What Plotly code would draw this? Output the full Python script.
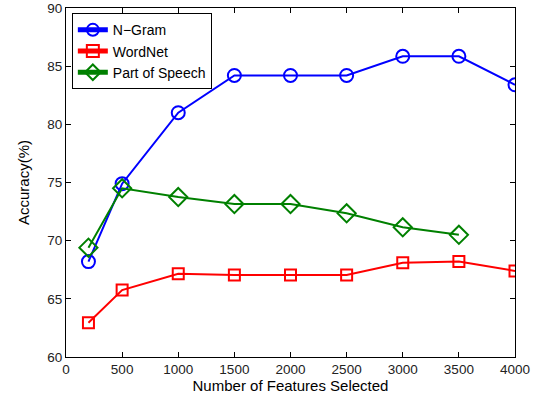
import plotly.graph_objects as go

features = [200, 500, 1000, 1500, 2000, 2500, 3000, 3500, 4000]
ngram = [68.2, 74.9, 81.0, 84.2, 84.2, 84.2, 85.85, 85.85, 83.4]
wordnet = [62.95, 65.75, 67.15, 67.05, 67.05, 67.05, 68.1, 68.2, 67.4]
pos_feat = [200, 500, 1000, 1500, 2000, 2500, 3000, 3500]
pos = [69.4, 74.5, 73.75, 73.15, 73.15, 72.35, 71.15, 70.5]

x_ticks = [0, 500, 1000, 1500, 2000, 2500, 3000, 3500, 4000]
y_ticks = [60, 65, 70, 75, 80, 85, 90]

FONT = "Liberation Sans, Arial, Helvetica, sans-serif"

fig = go.Figure()
fig.add_trace(go.Scatter(x=features, y=ngram, mode="lines+markers", name="N\u2212Gram",
                         line=dict(color="#0000ff", width=2),
                         marker=dict(symbol="circle-open", size=13, color="#0000ff", line=dict(width=2))))
fig.add_trace(go.Scatter(x=features, y=wordnet, mode="lines+markers", name="WordNet",
                         line=dict(color="#ff0000", width=2),
                         marker=dict(symbol="square-open", size=11, color="#ff0000", line=dict(width=2))))
fig.add_trace(go.Scatter(x=pos_feat, y=pos, mode="lines+markers", name="Part of Speech",
                         line=dict(color="#008000", width=2),
                         marker=dict(symbol="diamond-open", size=14, color="#008000", line=dict(width=2))))

axis_common = dict(showline=True, linecolor="black", linewidth=1, mirror="ticks",
                   ticks="inside", ticklen=5, tickcolor="black", showgrid=False, zeroline=False,
                   automargin=False,
                   tickfont=dict(family=FONT, size=13.5, color="#222222"))
fig.update_xaxes(range=[0, 4000], tickvals=x_ticks, ticktext=[str(t) for t in x_ticks],
                 title=dict(text="Number of Features Selected", standoff=1,
                            font=dict(family=FONT, size=15, color="black")),
                 **axis_common)
fig.update_yaxes(range=[60, 90], tickvals=y_ticks, ticktext=[str(t) for t in y_ticks],
                 title=dict(text="Accuracy(%)", standoff=14,
                            font=dict(family=FONT, size=15, color="black")),
                 **axis_common)
fig.update_layout(width=535, height=398, margin=dict(l=66, r=20, t=8, b=41),
                  paper_bgcolor="white", plot_bgcolor="white",
                  legend=dict(x=0.013, y=0.985, xanchor="left", yanchor="top",
                              bordercolor="black", borderwidth=1, bgcolor="white",
                              font=dict(family=FONT, size=14, color="black"),
                              tracegroupgap=0, itemsizing="constant"),
                  showlegend=True)
fig.write_html("out.html", config={"displayModeBar": False},
               post_script="document.body.style.margin='0';document.body.style.overflow='hidden';")
